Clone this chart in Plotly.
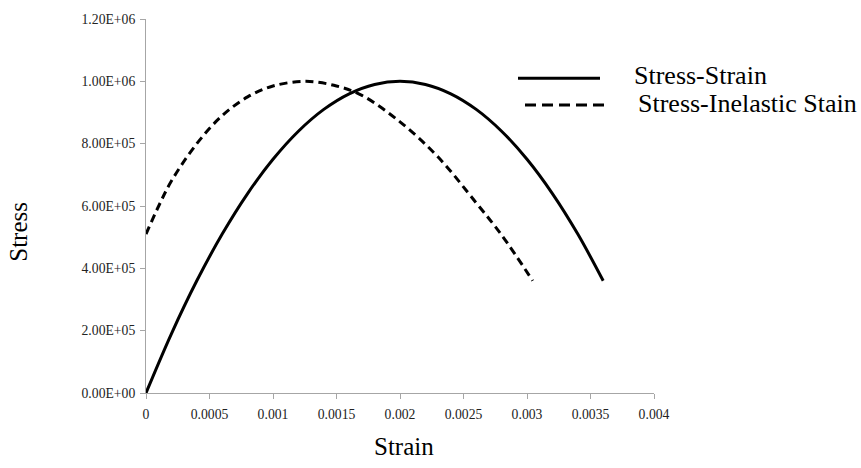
import plotly.graph_objects as go

# Stress-Strain curve
strain = [0, 0.0002, 0.0004, 0.0006, 0.0008, 0.001, 0.0012, 0.0014, 0.0016, 0.0018,
          0.002, 0.0022, 0.0024, 0.0026, 0.0028, 0.003, 0.0032, 0.0034, 0.0036]
stress = [0, 1.9e5, 3.6e5, 5.1e5, 6.4e5, 7.5e5, 8.4e5, 9.1e5, 9.6e5, 9.9e5,
          1.0e6, 9.9e5, 9.6e5, 9.1e5, 8.4e5, 7.5e5, 6.4e5, 5.1e5, 3.6e5]

# Stress-Inelastic strain curve
inel_strain = [0, 0.0001, 0.0002, 0.0004, 0.0006, 0.0008, 0.001, 0.00126, 0.0015,
               0.0017, 0.002, 0.0023, 0.0026, 0.0028, 0.003045]
inel_stress = [5.1e5, 6.0e5, 6.8e5, 8.0e5, 8.9e5, 9.5e5, 9.85e5, 1.0e6, 9.85e5,
               9.55e5, 8.7e5, 7.57e5, 6.1e5, 5.07e5, 3.6e5]

x_ticks = [0, 0.0005, 0.001, 0.0015, 0.002, 0.0025, 0.003, 0.0035, 0.004]
x_tick_labels = ["0", "0.0005", "0.001", "0.0015", "0.002", "0.0025", "0.003", "0.0035", "0.004"]
y_ticks = [0, 2e5, 4e5, 6e5, 8e5, 1.0e6, 1.2e6]
y_tick_labels = ["0.00E+00", "2.00E+05", "4.00E+05", "6.00E+05", "8.00E+05", "1.00E+06", "1.20E+06"]

series_names = ["Stress-Strain", "Stress-Inelastic Stain"]

FONT = "Liberation Serif, Times New Roman, serif"

fig = go.Figure()
fig.add_trace(go.Scatter(x=strain, y=stress, mode="lines", name=series_names[0],
                         line=dict(color="black", width=3, shape="spline", smoothing=1.0),
                         showlegend=False))
fig.add_trace(go.Scatter(x=inel_strain, y=inel_stress, mode="lines", name=series_names[1],
                         line=dict(color="black", width=3, dash="8px,5px", shape="spline", smoothing=1.0),
                         showlegend=False))

axis_color = "#a6a6a6"
fig.update_xaxes(range=[0, 0.004], tickvals=x_ticks, ticktext=x_tick_labels,
                 showline=True, linecolor=axis_color, linewidth=1,
                 ticks="outside", ticklen=5, tickcolor=axis_color,
                 showgrid=False, zeroline=False, ticklabelstandoff=4,
                 tickfont=dict(family=FONT, size=13.7, color="#222"))
fig.update_yaxes(range=[0, 1.2e6], tickvals=y_ticks, ticktext=y_tick_labels,
                 showline=True, linecolor=axis_color, linewidth=1,
                 ticks="outside", ticklen=5, tickcolor=axis_color,
                 showgrid=False, zeroline=False, ticklabelstandoff=2,
                 tickfont=dict(family=FONT, size=13.7, color="#222"))

W, H = 861, 468
L, R, T, B = 146, 207, 15, 75
pw, ph = W - L - R, H - T - B

def px(xp):
    return (xp - L) / pw

def py(yp):
    return (H - B - yp) / ph

# Legend (drawn manually to match the long line keys)
shapes = [
    dict(type="line", xref="paper", yref="paper", x0=px(518), x1=px(600), y0=py(75), y1=py(75),
         line=dict(color="black", width=3)),
    dict(type="line", xref="paper", yref="paper", x0=px(525), x1=px(608), y0=py(102), y1=py(102),
         line=dict(color="black", width=3, dash="11px,6px")),
]
annotations = [
    dict(text=series_names[0], xref="paper", yref="paper", x=px(632), y=py(72),
         xanchor="left", yanchor="middle", showarrow=False,
         font=dict(family=FONT, size=26, color="black")),
    dict(text=series_names[1], xref="paper", yref="paper", x=px(636), y=py(100),
         xanchor="left", yanchor="middle", showarrow=False,
         font=dict(family=FONT, size=26, color="black")),
    dict(text="Strain", xref="paper", yref="paper", x=px(404), y=py(447),
         xanchor="center", yanchor="middle", showarrow=False,
         font=dict(family=FONT, size=25, color="black")),
    dict(text="Stress", xref="paper", yref="paper", x=px(19), y=py(230),
         xanchor="center", yanchor="middle", showarrow=False, textangle=-90,
         font=dict(family=FONT, size=25, color="black")),
]

fig.update_layout(width=W, height=H, margin=dict(l=L, r=R, t=T, b=B),
                  paper_bgcolor="white", plot_bgcolor="white",
                  shapes=shapes, annotations=annotations, showlegend=False)

fig.write_html("out.html")
